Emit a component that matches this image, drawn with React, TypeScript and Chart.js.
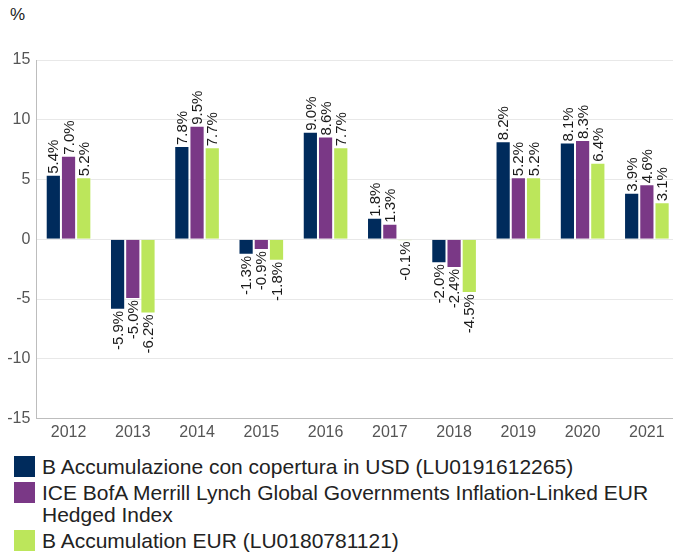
import React, { useEffect, useRef } from "react";
import { Chart, registerables } from "chart.js";

Chart.register(...registerables);

const categories = ["2012", "2013", "2014", "2015", "2016", "2017", "2018", "2019", "2020", "2021"];
const usdValues = [5.4, -5.9, 7.8, -1.3, 9.0, 1.8, -2.0, 8.2, 8.1, 3.9];
const indexValues = [7.0, -5.0, 9.5, -0.9, 8.6, 1.3, -2.4, 5.2, 8.3, 4.6];
const eurValues = [5.2, -6.2, 7.7, -1.8, 7.7, -0.1, -4.5, 5.2, 6.4, 3.1];
const yTicks = [-15, -10, -5, 0, 5, 10, 15];
const seriesNames = [
  "B Accumulazione con copertura in USD (LU0191612265)",
  "ICE BofA Merrill Lynch Global Governments Inflation-Linked EUR Hedged Index",
  "B Accumulation EUR (LU0180781121)",
];
const seriesColors = ["#002b5c", "#7a3886", "#bce65b"];

const FONT = "'Liberation Sans', Arial, sans-serif";

const labelPlugin = {
  id: "barLabels",
  afterDatasetsDraw(chart: any) {
    const ctx = chart.ctx;
    ctx.save();
    ctx.font = `15px ${FONT}`;
    ctx.fillStyle = "#1a1a1a";
    ctx.textBaseline = "middle";
    chart.data.datasets.forEach((ds: any, di: number) => {
      const meta = chart.getDatasetMeta(di);
      meta.data.forEach((el: any, i: number) => {
        const v = ds.data[i] as number;
        const txt = v.toFixed(1) + "%";
        ctx.save();
        ctx.translate(el.x + 1, v >= 0 ? el.y - 1 : el.y + 1);
        ctx.rotate(-Math.PI / 2);
        ctx.textAlign = v >= 0 ? "left" : "right";
        ctx.fillText(txt, 0, 0);
        ctx.restore();
      });
    });
    ctx.restore();
  },
};

export default function App() {
  const ref = useRef<HTMLCanvasElement | null>(null);

  useEffect(() => {
    if (!ref.current) return;
    const values = [usdValues, indexValues, eurValues];
    const chart = new Chart(ref.current, {
      type: "bar",
      data: {
        labels: categories,
        datasets: values.map((d, i) => ({
          label: seriesNames[i],
          data: d,
          backgroundColor: seriesColors[i],
          borderColor: "rgba(255,255,255,0.55)",
          borderWidth: 1,
          categoryPercentage: 0.71,
          barPercentage: 1,
        })),
      },
      options: {
        animation: false,
        responsive: false,
        maintainAspectRatio: false,
        devicePixelRatio: 1,
        layout: { padding: { top: 60, right: 0, bottom: 0, left: 0 } },
        plugins: {
          legend: { display: false },
          tooltip: { enabled: false },
        },
        scales: {
          x: {
            grid: { display: false, drawTicks: false },
            border: { display: true, color: "#bdbdbd", width: 1 },
            ticks: { color: "#555", font: { family: FONT, size: 16 }, padding: 4, maxRotation: 0 },
            afterFit: (s: any) => {
              s.height = 26.4;
            },
          },
          y: {
            min: -15,
            max: 15,
            grid: { color: "#e8e8e8", drawTicks: false },
            border: { display: true, color: "#bdbdbd", width: 1 },
            afterBuildTicks: (s: any) => {
              s.ticks = yTicks.map((v) => ({ value: v }));
            },
            ticks: { color: "#555", font: { family: FONT, size: 16 }, padding: 6 },
            afterFit: (s: any) => {
              s.width = 36.4;
            },
          },
        },
      },
      plugins: [labelPlugin],
    });
    return () => chart.destroy();
  }, []);

  return (
    <div style={{ position: "absolute", left: 0, top: 0, width: 673, height: 552, overflow: "hidden", background: "#fff", fontFamily: FONT }}>
      <div style={{ position: "absolute", left: 10, top: 5, fontSize: 17, color: "#222" }}>%</div>
      <canvas ref={ref} width={679} height={445} style={{ position: "absolute", left: 0, top: 0, width: 679, height: 445 }} />
      <div style={{ position: "absolute", left: 14, top: 456, width: 659 }}>
        {seriesNames.map((n, i) => (
          <div key={i} style={{ display: "flex", alignItems: "flex-start", lineHeight: "22px", fontSize: 21, color: "#222", marginBottom: 4 }}>
            <div style={{ width: 21, height: 21, background: seriesColors[i], flex: "none" }} />
            <div style={{ marginLeft: 7, width: 628 }}>{n}</div>
          </div>
        ))}
      </div>
    </div>
  );
}
